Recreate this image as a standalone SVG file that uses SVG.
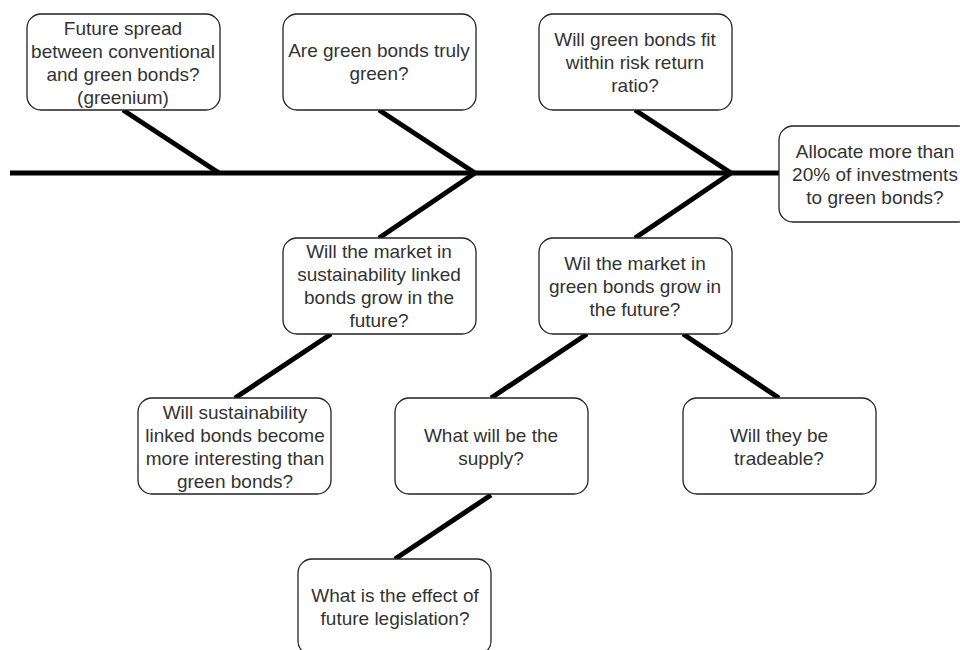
<svg xmlns="http://www.w3.org/2000/svg" width="960" height="650" viewBox="0 0 960 650">
<style>
.box{fill:#fff;stroke:#222;stroke-width:1.3}
.t{font-family:"Liberation Sans",Arial,sans-serif;font-size:19px;fill:#333;text-anchor:middle;dominant-baseline:central}
.bone{stroke:#000;stroke-width:5;fill:none;stroke-linecap:butt}
</style>
<rect width="960" height="650" fill="#fff"/>
<g id="connectors">
<line class="bone" x1="10" y1="173" x2="779" y2="173"/>
<line class="bone" x1="123" y1="110" x2="219" y2="173"/>
<line class="bone" x1="379" y1="110" x2="475" y2="173"/>
<line class="bone" x1="635" y1="110" x2="731" y2="173"/>
<line class="bone" x1="475" y1="173" x2="379" y2="238"/>
<line class="bone" x1="731" y1="173" x2="635" y2="238"/>
<line class="bone" x1="331" y1="334" x2="235" y2="398"/>
<line class="bone" x1="587" y1="334" x2="491" y2="398"/>
<line class="bone" x1="683" y1="334" x2="779" y2="398"/>
<line class="bone" x1="491" y1="495" x2="395" y2="559"/>
</g>
<g id="n1"><rect class="box" x="27" y="14" width="193" height="96" rx="14"/>
<text class="t" x="123" y="28.5">Future spread</text><text class="t" x="123" y="51.5">between conventional</text><text class="t" x="123" y="74.5">and green bonds?</text><text class="t" x="123" y="97.5">(greenium)</text></g>
<g id="n2"><rect class="box" x="283" y="14" width="193" height="96" rx="14"/>
<text class="t" x="379" y="50.5">Are green bonds truly</text><text class="t" x="379" y="73.5">green?</text></g>
<g id="n3"><rect class="box" x="539" y="14" width="193" height="96" rx="14"/>
<text class="t" x="635" y="39">Will green bonds fit</text><text class="t" x="635" y="62">within risk return</text><text class="t" x="635" y="85">ratio?</text></g>
<g id="head"><rect class="box" x="779" y="126" width="193" height="96" rx="14"/>
<text class="t" x="875" y="151">Allocate more than</text><text class="t" x="875" y="174">20% of investments</text><text class="t" x="875" y="197">to green bonds?</text></g>
<g id="n4"><rect class="box" x="283" y="238" width="193" height="96" rx="14"/>
<text class="t" x="379" y="251.5">Will the market in</text><text class="t" x="379" y="274.5">sustainability linked</text><text class="t" x="379" y="297.5">bonds grow in the</text><text class="t" x="379" y="320.5">future?</text></g>
<g id="n5"><rect class="box" x="539" y="238" width="193" height="96" rx="14"/>
<text class="t" x="635" y="263">Wil the market in</text><text class="t" x="635" y="286">green bonds grow in</text><text class="t" x="635" y="309">the future?</text></g>
<g id="n6"><rect class="box" x="138" y="398" width="193" height="96" rx="14"/>
<text class="t" x="235" y="412">Will sustainability</text><text class="t" x="235" y="435">linked bonds become</text><text class="t" x="235" y="458">more interesting than</text><text class="t" x="235" y="481">green bonds?</text></g>
<g id="n7"><rect class="box" x="395" y="398" width="193" height="96" rx="14"/>
<text class="t" x="491" y="435">What will be the</text><text class="t" x="491" y="458">supply?</text></g>
<g id="n8"><rect class="box" x="683" y="398" width="193" height="96" rx="14"/>
<text class="t" x="779" y="435">Will they be</text><text class="t" x="779" y="458">tradeable?</text></g>
<g id="n9"><rect class="box" x="298" y="559" width="193" height="96" rx="14"/>
<text class="t" x="395" y="595.5">What is the effect of</text><text class="t" x="395" y="618.5">future legislation?</text></g>
</svg>
